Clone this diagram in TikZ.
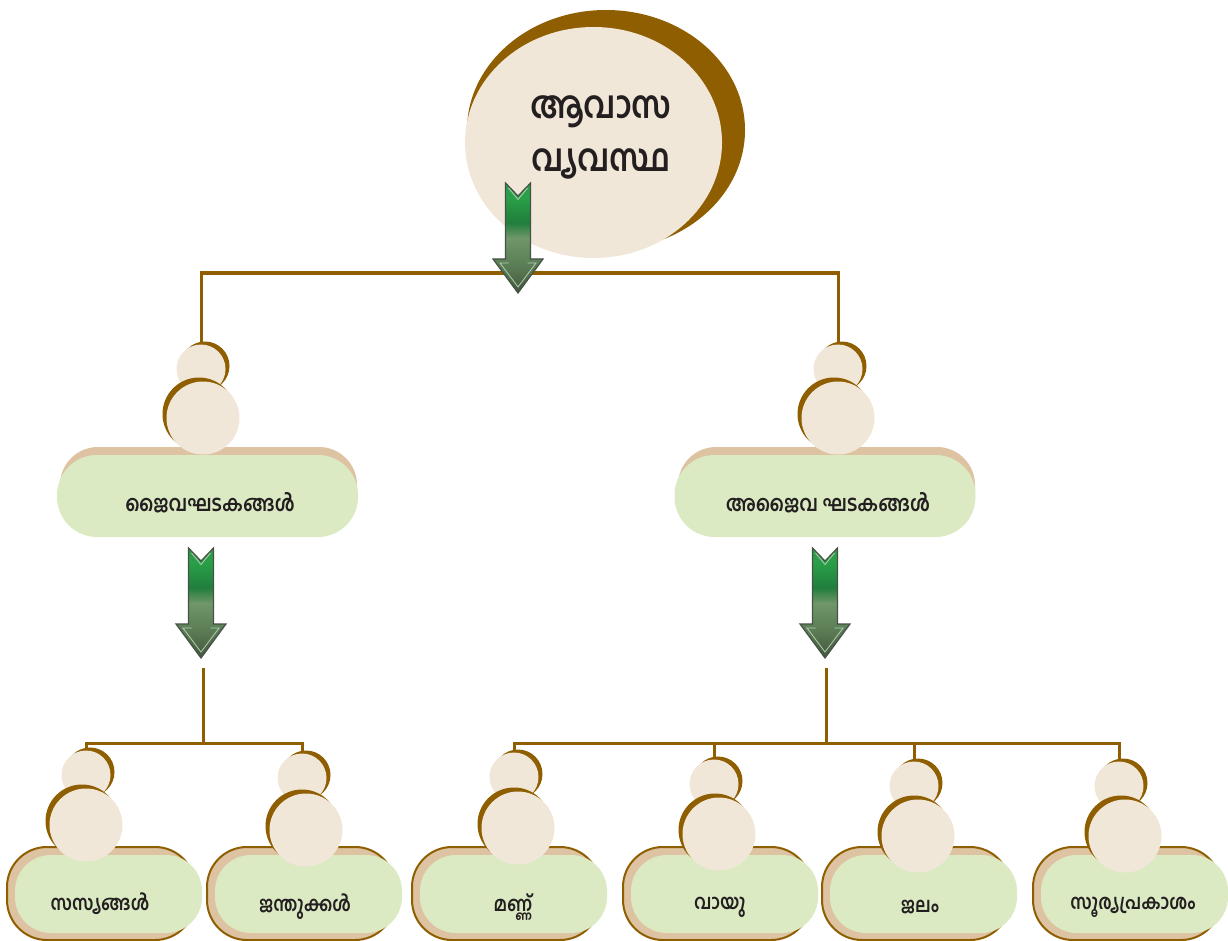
\documentclass[tikz,border=0pt]{standalone}
\usepackage{fontspec}
\newfontfamily\ml[Script=Malayalam, FakeStretch=0.85]{Hind Kochi}
\usetikzlibrary{shapes.geometric,shadows}
\definecolor{brownc}{RGB}{143,94,0}
\definecolor{creamc}{RGB}{241,231,217}
\definecolor{tanc}{RGB}{222,195,162}
\definecolor{greenc}{RGB}{220,234,196}
\definecolor{txtc}{RGB}{35,31,32}
\definecolor{argreen}{RGB}{42,158,72}
\definecolor{argreendk}{RGB}{32,126,60}
\definecolor{armid}{RGB}{112,150,106}
\definecolor{armidb}{RGB}{92,126,86}
\definecolor{ardark}{RGB}{66,86,60}
\definecolor{arline}{RGB}{70,82,70}
\definecolor{arhi}{RGB}{180,205,180}
\pgfdeclareverticalshading{arrowsh}{100bp}{color(0bp)=(ardark); color(25bp)=(ardark); color(38bp)=(armidb); color(50bp)=(armid); color(57bp)=(argreendk); color(68bp)=(argreen); color(75bp)=(argreen); color(100bp)=(argreen)}
\tikzset{
  conn/.style={draw=brownc, line width=3pt},
  smallbead/.style={circle, inner sep=0pt, minimum size=49pt, fill=creamc,
    general shadow={fill=brownc, shadow xshift=4pt, shadow yshift=3pt}},
  bigbead/.style={circle, inner sep=0pt, minimum size=73pt, fill=creamc,
    general shadow={fill=brownc, shadow xshift=-4pt, shadow yshift=4pt}},
  midback/.style={rectangle, rounded corners=38pt, minimum width=297pt, minimum height=83pt, fill=tanc, inner sep=0pt},
  midbox/.style={rectangle, rounded corners=40pt, minimum width=301pt, minimum height=82pt, fill=greenc, inner sep=0pt},
  lowback/.style={rectangle, rounded corners=40pt, minimum width=188pt, minimum height=93pt, fill=tanc, draw=brownc, line width=2pt, inner sep=0pt},
  lowbox/.style={rectangle, rounded corners=36pt, minimum width=187pt, minimum height=78pt, fill=greenc, inner sep=0pt},
  toptext/.style={text=txtc, align=center, font=\ml\bfseries\fontsize{38}{53}\selectfont},
  midtext/.style={text=txtc, font=\ml\bfseries\fontsize{22}{26}\selectfont},
  lowtext/.style={text=txtc, font=\ml\bfseries\fontsize{20.5}{24}\selectfont},
  downarrow/.pic={
    \shadedraw[shading=arrowsh, draw=arline, line width=1.2pt, line join=miter]
      (-12.5,0) -- (0,13) -- (12.5,0) -- (12.5,76) -- (25,76) -- (0,110) -- (-25,76) -- (-12.5,76) -- cycle;
    \draw[arhi, line width=0.8pt] (-9.5,5) -- (0,16.5) -- (9.5,5);
    \draw[arhi, line width=0.8pt] (-9.5,80) -- (-18,80) -- (0,104) -- (18,80) -- (9.5,80);
  }
}
\begin{document}
\begin{tikzpicture}[x=1pt, y=-1pt]
\useasboundingbox (0,0) rectangle (1228,941);
% top ellipse
\fill[brownc] (606,130) ellipse [x radius=139, y radius=120];
\node[ellipse, fill=creamc, minimum width=257pt, minimum height=231pt, inner sep=0pt] (top) at (593.5,142.5) {};
\node[toptext] (toplabel) at (601,137) {ആവാസ\\വ്യവസ്ഥ};

% junctions
\coordinate (j1) at (518,273);
\coordinate (j2t) at (203,668);
\coordinate (j2) at (203,743);
\coordinate (j3t) at (826,668);
\coordinate (j3) at (826,743);

% level 2 left
\node[midback] (bl) at (208.5,488.5) {};
\node[midbox] (gl) at (207.5,496) {};
\node[smallbead] (sl) at (201,369) {};
\node[bigbead] (ll) at (203,418) {};
\node[midtext] (tl) at (210,503) {ജൈവഘടകങ്ങൾ};

% level 2 right
\node[midback] (br) at (826.5,488.5) {};
\node[midbox] (gr) at (825,496) {};
\node[smallbead] (sr) at (838,369) {};
\node[bigbead] (lr) at (838,418) {};
\node[midtext] (tr) at (828,503) {അജൈവ ഘടകങ്ങൾ};

\draw[conn] (sl.north) |- (j1) -| (sr.north);

% bottom row
\foreach \n/\bx/\gx/\sx/\sy/\lx/\ly in {
  1/101/108.5/86/775/86/825,
  2/301/308.5/302/778/306/830,
  3/506/513.5/514/777/518/828,
  4/717/724.5/714/784/719/834,
  5/916/923.5/914/786/918/836,
  6/1127/1134.5/1119/786/1125/836}{
  \node[lowback] (k\n) at (\bx,893.5) {};
  \node[lowbox] (g\n) at (\gx,894) {};
  \node[smallbead] (s\n) at (\sx,\sy) {};
  \node[bigbead] (l\n) at (\lx,\ly) {};
}
\node[lowtext] (t1) at (100,904) {സസ്യങ്ങൾ};
\node[lowtext] (t2) at (305,907) {ജന്തുക്കൾ};
\node[lowtext] (t3) at (513,907) {മണ്ണ്};
\node[lowtext] (t4) at (720,907) {വായു};
\node[lowtext] (t5) at (920,907) {ജലം};
\node[lowtext] (t6) at (1133,907) {സൂര്യപ്രകാശം};

\draw[conn] (j2t) -- (j2);
\draw[conn] (s1.north) |- (j2) -| (s2.north);
\draw[conn] (j3t) -- (j3);
\draw[conn] (s3.north) |- (j3) -| (s6.north);
\draw[conn] (j3) -| (s4.north);
\draw[conn] (j3) -| (s5.north);

% arrows
\pic at (518,183) {downarrow};
\pic at (201,548) {downarrow};
\pic at (825,548) {downarrow};
\end{tikzpicture}
\end{document}
